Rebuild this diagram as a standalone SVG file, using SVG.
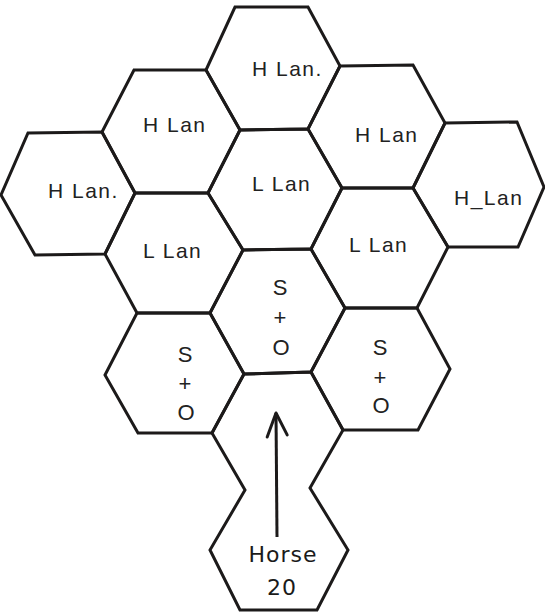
<svg xmlns="http://www.w3.org/2000/svg" width="545" height="613" viewBox="0 0 545 613">
<style>
.hex{fill:none;stroke:#1c1a1a;stroke-width:3;stroke-linejoin:miter}
.lbl{font-family:"Liberation Sans",Arial,sans-serif;font-size:21px;fill:#222;letter-spacing:1.5px}
.so{font-family:"Liberation Sans",Arial,sans-serif;font-size:22px;fill:#222;text-anchor:middle}
.hand{font-family:"DejaVu Sans","Liberation Sans",sans-serif;font-size:22px;fill:#1a1a1a;text-anchor:middle;letter-spacing:1px}
.conn{fill:none;stroke:#1c1a1a;stroke-width:3}
</style>
<defs>
<marker id="arrow" viewBox="0 0 28 28" markerWidth="28" markerHeight="28" refX="26" refY="14" orient="auto" markerUnits="userSpaceOnUse">
<path d="M2,5 L26,14 L4,25" fill="none" stroke="#1c1a1a" stroke-width="3" stroke-linecap="round" stroke-linejoin="round"/>
</marker>
</defs>
<rect width="545" height="613" fill="#fff"/>
<g id="hex-top">
<polygon class="hex" points="235,7 308,7 340,66 308,129 240,130 206,70"/>
<text class="lbl" x="252" y="76">H Lan.</text>
</g>
<g id="hex-upper-left">
<polygon class="hex" points="134,70 206,70 240,130 208,193 135,193 102,132"/>
<text class="lbl" x="143" y="132">H Lan</text>
</g>
<g id="hex-center">
<polygon class="hex" points="240,130 308,129 342,188 311,249 243,250 208,193"/>
<text class="lbl" x="252" y="191">L Lan</text>
</g>
<g id="hex-upper-right">
<polygon class="hex" points="340,66 413,65 445,123 413,188 342,188 308,129"/>
<text class="lbl" x="355" y="142">H Lan</text>
</g>
<g id="hex-far-left">
<polygon class="hex" points="28,133 102,132 135,193 105,254 35,255 1,195"/>
<text class="lbl" x="48" y="198">H Lan.</text>
</g>
<g id="hex-far-right">
<polygon class="hex" points="445,123 517,122 544,187 518,247 448,247 413,188"/>
<text class="lbl" x="454" y="205">H_Lan</text>
</g>
<g id="hex-lower-left">
<polygon class="hex" points="135,193 208,193 243,250 210,313 137,313 105,254"/>
<text class="lbl" x="143" y="258">L Lan</text>
</g>
<g id="hex-lower-right">
<polygon class="hex" points="342,188 413,188 448,247 417,308 345,308 311,249"/>
<text class="lbl" x="349" y="252">L Lan</text>
</g>
<g id="hex-so-center">
<polygon class="hex" points="243,250 311,249 345,308 311,372 244,374 210,313"/>
<text class="so" x="280" y="295">S</text>
<text class="so" x="280" y="325">+</text>
<text class="so" x="281" y="355">O</text>
</g>
<g id="hex-so-left">
<polygon class="hex" points="137,313 210,313 244,374 212,433 138,433 105,375"/>
<text class="so" x="185" y="362">S</text>
<text class="so" x="185" y="391">+</text>
<text class="so" x="186" y="420">O</text>
</g>
<g id="hex-so-right">
<polygon class="hex" points="345,308 417,308 450,369 418,430 343,430 311,372"/>
<text class="so" x="380" y="355">S</text>
<text class="so" x="380" y="385">+</text>
<text class="so" x="381" y="413">O</text>
</g>
<g id="hex-horse">
<polygon class="hex" points="244,374 311,372 343,430 310,488 348,550 317,610 240,610 210,550 245,490 212,433"/>
<text class="hand" x="283" y="562">Horse</text>
<text class="hand" x="282" y="595">20</text>
</g>
<g id="connectors">
<line class="conn" x1="277" y1="537" x2="276" y2="413" marker-end="url(#arrow)"/>
</g>
</svg>
